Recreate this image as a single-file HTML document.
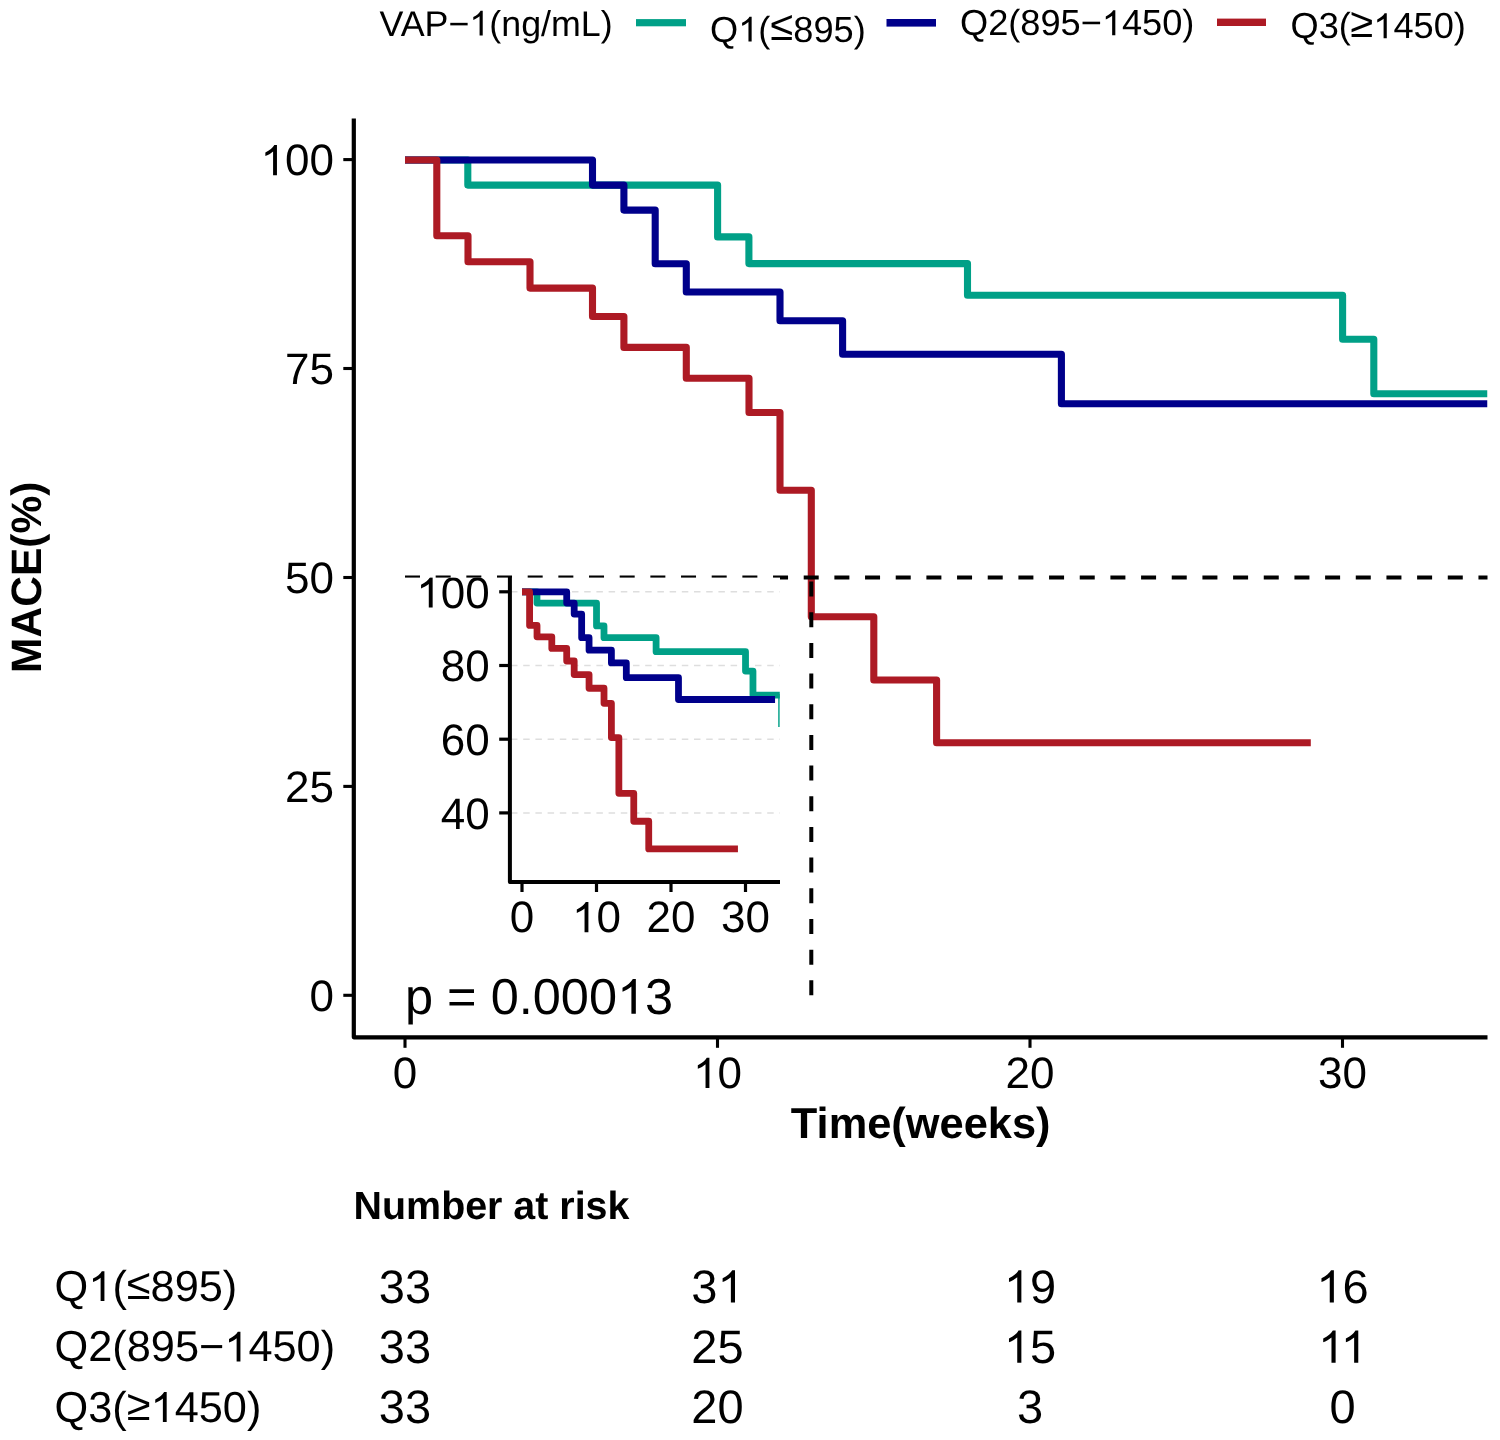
<!DOCTYPE html>
<html><head><meta charset="utf-8"><title>KM plot</title>
<style>html,body{margin:0;padding:0;background:#fff;}body{width:1500px;height:1440px;overflow:hidden;}svg{will-change:transform;}svg{display:block;}text{text-rendering:geometricPrecision;font-family:"Liberation Sans",sans-serif;}.h1{fill-opacity:0;}</style>
</head><body>
<svg width="1500" height="1440" viewBox="0 0 1500 1440">
<defs><clipPath id="pc"><rect x="354" y="100" width="1133.5" height="937"/></clipPath><clipPath id="ic"><rect x="509.8" y="577.6" width="270" height="305"/></clipPath></defs>
<rect width="1500" height="1440" fill="#fff"/>
<g font-family="Liberation Sans, sans-serif" font-size="36.2" fill="#000">
<text x="379.5" y="35.5" font-size="35.8">VAP−<tspan class="h1">1</tspan>(ng/mL)</text><path transform="translate(469.39,35.50) scale(0.01748,-0.01680)" d="M763,0L583,0L583,1147Q518,1085 412.5,1023Q307,961 223,930L223,1104Q374,1175 480.5,1271Q587,1367 641,1466L763,1466Z"/>
<rect x="636" y="19.1" width="50" height="7.2" fill="#00A087"/>
<text x="710" y="41.6">Q<tspan class="h1">1</tspan>(<tspan dx="0" dy="-1.8" font-size="41.8">≤</tspan><tspan dy="1.8">895)</tspan></text><path transform="translate(738.16,41.60) scale(0.01768,-0.01699)" d="M763,0L583,0L583,1147Q518,1085 412.5,1023Q307,961 223,930L223,1104Q374,1175 480.5,1271Q587,1367 641,1466L763,1466Z"/>
<rect x="886.5" y="19" width="49.5" height="7.6" fill="#00008B"/>
<text x="960" y="35.2">Q2(895−<tspan class="h1">1</tspan>450)</text><path transform="translate(1101.84,35.20) scale(0.01768,-0.01699)" d="M763,0L583,0L583,1147Q518,1085 412.5,1023Q307,961 223,930L223,1104Q374,1175 480.5,1271Q587,1367 641,1466L763,1466Z"/>
<rect x="1217" y="18.6" width="49" height="7.4" fill="#AD1A24"/>
<text x="1290.5" y="38.2">Q3(<tspan dx="-0.5" dy="-1.4" font-size="41.8">≥</tspan><tspan dy="1.4"><tspan class="h1">1</tspan>450)</tspan></text><path transform="translate(1373.28,38.20) scale(0.01768,-0.01699)" d="M763,0L583,0L583,1147Q518,1085 412.5,1023Q307,961 223,930L223,1104Q374,1175 480.5,1271Q587,1367 641,1466L763,1466Z"/>
</g>
<g clip-path="url(#pc)" fill="none" stroke-linejoin="round" stroke-linecap="butt">
<polyline points="405.00,160.00 467.80,160.00 467.80,185.10 717.60,185.10 717.60,236.90 748.90,236.90 748.90,263.60 967.50,263.60 967.50,295.30 1342.60,295.30 1342.60,339.30 1373.80,339.30 1373.80,393.80 1487.50,393.80" stroke="#00A087" stroke-width="7.1"/>
<polyline points="405.00,160.00 592.50,160.00 592.50,185.10 623.90,185.10 623.90,210.10 655.20,210.10 655.20,263.70 686.30,263.70 686.30,292.00 780.00,292.00 780.00,320.80 842.60,320.80 842.60,354.30 1061.40,354.30 1061.40,403.80 1487.50,403.80" stroke="#00008B" stroke-width="7.1"/>
<polyline points="405.00,160.00 436.80,160.00 436.80,235.80 468.00,235.80 468.00,261.80 530.00,261.80 530.00,288.10 592.50,288.10 592.50,316.50 623.90,316.50 623.90,347.40 686.30,347.40 686.30,378.30 749.00,378.30 749.00,412.50 780.00,412.50 780.00,490.20 811.30,490.20 811.30,616.70 873.80,616.70 873.80,680.00 936.60,680.00 936.60,742.80 1310.80,742.80" stroke="#AD1A24" stroke-width="7.1"/>
</g>
<g stroke="#000" stroke-width="4" stroke-dasharray="15 15.67">
<line x1="405" y1="577.5" x2="1487.5" y2="577.5"/>
<line x1="811.3" y1="995.3" x2="811.3" y2="577.5"/>
</g>
<g>
<rect x="400" y="577.6" width="380" height="370" fill="#fff"/>
<g clip-path="url(#ic)">
<line x1="511" y1="591.8" x2="780" y2="591.8" stroke="#dedede" stroke-width="1.5" stroke-dasharray="6.5 5.7"/>
<line x1="511" y1="665.5" x2="780" y2="665.5" stroke="#dedede" stroke-width="1.5" stroke-dasharray="6.5 5.7"/>
<line x1="511" y1="739.2" x2="780" y2="739.2" stroke="#dedede" stroke-width="1.5" stroke-dasharray="6.5 5.7"/>
<line x1="511" y1="812.9" x2="780" y2="812.9" stroke="#dedede" stroke-width="1.5" stroke-dasharray="6.5 5.7"/>
<g fill="none" stroke-linejoin="round" stroke-linecap="butt">
<polyline points="522.00,591.97 536.97,591.97 536.97,603.04 596.52,603.04 596.52,625.88 603.99,625.88 603.99,637.65 656.10,637.65 656.10,651.63 745.52,651.63 745.52,671.03 752.96,671.03 752.96,695.07 780.07,695.07" stroke="#00A087" stroke-width="6.8"/>
<polyline points="522.00,591.97 566.70,591.97 566.70,603.04 574.19,603.04 574.19,614.06 581.65,614.06 581.65,637.70 589.06,637.70 589.06,650.18 611.40,650.18 611.40,662.88 626.32,662.88 626.32,677.65 678.49,677.65 678.49,699.48 775.06,699.48" stroke="#00008B" stroke-width="6.8"/>
<polyline points="522.00,591.97 529.58,591.97 529.58,625.40 537.02,625.40 537.02,636.86 551.80,636.86 551.80,648.46 566.70,648.46 566.70,660.98 574.19,660.98 574.19,674.61 589.06,674.61 589.06,688.23 604.01,688.23 604.01,703.31 611.40,703.31 611.40,737.57 618.86,737.57 618.86,793.35 633.76,793.35 633.76,821.27 648.73,821.27 648.73,848.96 737.94,848.96" stroke="#AD1A24" stroke-width="6.8"/>
<line x1="779" y1="694" x2="779" y2="727" stroke="#00A087" stroke-width="1.6"/>
</g>
</g>
<clipPath id="ic2"><rect x="380" y="577.4" width="420" height="400"/></clipPath>
<g clip-path="url(#ic2)" font-family="Liberation Sans, sans-serif" font-size="44" fill="#000">
<text x="489.7" y="607.6" text-anchor="end"><tspan class="h1">1</tspan>00</text><path transform="translate(416.26,607.60) scale(0.02148,-0.02065)" d="M763,0L583,0L583,1147Q518,1085 412.5,1023Q307,961 223,930L223,1104Q374,1175 480.5,1271Q587,1367 641,1466L763,1466Z"/>
<text x="489.7" y="681.3" text-anchor="end">80</text>
<text x="489.7" y="755.0" text-anchor="end">60</text>
<text x="489.7" y="828.7" text-anchor="end">40</text>
<text x="522.0" y="932.2" text-anchor="middle">0</text>
<text x="596.5" y="932.2" text-anchor="middle"><tspan class="h1">1</tspan>0</text><path transform="translate(572.02,932.20) scale(0.02148,-0.02065)" d="M763,0L583,0L583,1147Q518,1085 412.5,1023Q307,961 223,930L223,1104Q374,1175 480.5,1271Q587,1367 641,1466L763,1466Z"/>
<text x="671.0" y="932.2" text-anchor="middle">20</text>
<text x="745.5" y="932.2" text-anchor="middle">30</text>
</g>
<g stroke="#000" stroke-width="3.2">
<line x1="499.2" y1="591.8" x2="509.8" y2="591.8"/>
<line x1="499.2" y1="665.5" x2="509.8" y2="665.5"/>
<line x1="499.2" y1="739.2" x2="509.8" y2="739.2"/>
<line x1="499.2" y1="812.9" x2="509.8" y2="812.9"/>
<line x1="522.0" y1="882" x2="522.0" y2="892"/>
<line x1="596.5" y1="882" x2="596.5" y2="892"/>
<line x1="671.0" y1="882" x2="671.0" y2="892"/>
<line x1="745.5" y1="882" x2="745.5" y2="892"/>
</g>
<polyline points="509.9,576.6 509.9,882 780,882" fill="none" stroke="#000" stroke-width="4" stroke-linejoin="round"/>
</g>
<polyline points="353.8,118.4 353.8,1037.3 1487.5,1037.3" fill="none" stroke="#000" stroke-width="4.2" stroke-linejoin="round"/>
<g stroke="#000" stroke-width="3.1">
<line x1="343.3" y1="159.6" x2="353.8" y2="159.6"/>
<line x1="343.3" y1="368.5" x2="353.8" y2="368.5"/>
<line x1="343.3" y1="577.5" x2="353.8" y2="577.5"/>
<line x1="343.3" y1="786.4" x2="353.8" y2="786.4"/>
<line x1="343.3" y1="995.3" x2="353.8" y2="995.3"/>
<line x1="405.0" y1="1037.3" x2="405.0" y2="1047.8"/>
<line x1="717.5" y1="1037.3" x2="717.5" y2="1047.8"/>
<line x1="1030.0" y1="1037.3" x2="1030.0" y2="1047.8"/>
<line x1="1342.5" y1="1037.3" x2="1342.5" y2="1047.8"/>
</g>
<g font-family="Liberation Sans, sans-serif" font-size="44" fill="#000">
<text x="334" y="175.3" text-anchor="end"><tspan class="h1">1</tspan>00</text><path transform="translate(260.56,175.30) scale(0.02148,-0.02065)" d="M763,0L583,0L583,1147Q518,1085 412.5,1023Q307,961 223,930L223,1104Q374,1175 480.5,1271Q587,1367 641,1466L763,1466Z"/>
<text x="334" y="384.2" text-anchor="end">75</text>
<text x="334" y="593.2" text-anchor="end">50</text>
<text x="334" y="802.1" text-anchor="end">25</text>
<text x="334" y="1011.0" text-anchor="end">0</text>
<text x="405.0" y="1088" text-anchor="middle">0</text>
<text x="717.5" y="1088" text-anchor="middle"><tspan class="h1">1</tspan>0</text><path transform="translate(693.02,1088.00) scale(0.02148,-0.02065)" d="M763,0L583,0L583,1147Q518,1085 412.5,1023Q307,961 223,930L223,1104Q374,1175 480.5,1271Q587,1367 641,1466L763,1466Z"/>
<text x="1030.0" y="1088" text-anchor="middle">20</text>
<text x="1342.5" y="1088" text-anchor="middle">30</text>
<text x="405" y="1013.8" font-size="50.5">p = 0.000<tspan class="h1">1</tspan>3</text><path transform="translate(617.02,1013.80) scale(0.02466,-0.02370)" d="M763,0L583,0L583,1147Q518,1085 412.5,1023Q307,961 223,930L223,1104Q374,1175 480.5,1271Q587,1367 641,1466L763,1466Z"/>
</g>
<g font-family="Liberation Sans, sans-serif" font-weight="bold" fill="#000">
<text x="920.7" y="1138.3" font-size="43.4" text-anchor="middle">Time(weeks)</text>
<text transform="translate(40.5,577.3) rotate(-90)" font-size="42.5" text-anchor="middle">MACE(%)</text>
<text x="353.6" y="1219.4" font-size="39.4">Number at risk</text>
</g>
<g font-family="Liberation Sans, sans-serif" font-size="43.3" fill="#000">
<text x="54.6" y="1301.00">Q<tspan class="h1">1</tspan>(<tspan dy="-2.2">≤</tspan><tspan dy="2.2">895)</tspan></text><path transform="translate(88.29,1301.00) scale(0.02114,-0.02032)" d="M763,0L583,0L583,1147Q518,1085 412.5,1023Q307,961 223,930L223,1104Q374,1175 480.5,1271Q587,1367 641,1466L763,1466Z"/>
<text x="405.0" y="1302.60" font-size="47" text-anchor="middle">33</text>
<text x="717.5" y="1302.60" font-size="47" text-anchor="middle">3<tspan class="h1">1</tspan></text><path transform="translate(717.50,1302.60) scale(0.02295,-0.02205)" d="M763,0L583,0L583,1147Q518,1085 412.5,1023Q307,961 223,930L223,1104Q374,1175 480.5,1271Q587,1367 641,1466L763,1466Z"/>
<text x="1030.0" y="1302.60" font-size="47" text-anchor="middle"><tspan class="h1">1</tspan>9</text><path transform="translate(1003.86,1302.60) scale(0.02295,-0.02205)" d="M763,0L583,0L583,1147Q518,1085 412.5,1023Q307,961 223,930L223,1104Q374,1175 480.5,1271Q587,1367 641,1466L763,1466Z"/>
<text x="1342.5" y="1302.60" font-size="47" text-anchor="middle"><tspan class="h1">1</tspan>6</text><path transform="translate(1316.36,1302.60) scale(0.02295,-0.02205)" d="M763,0L583,0L583,1147Q518,1085 412.5,1023Q307,961 223,930L223,1104Q374,1175 480.5,1271Q587,1367 641,1466L763,1466Z"/>
<text x="54.6" y="1361.45">Q2(895−<tspan class="h1">1</tspan>450)</text><path transform="translate(224.30,1361.45) scale(0.02114,-0.02032)" d="M763,0L583,0L583,1147Q518,1085 412.5,1023Q307,961 223,930L223,1104Q374,1175 480.5,1271Q587,1367 641,1466L763,1466Z"/>
<text x="405.0" y="1362.87" font-size="47" text-anchor="middle">33</text>
<text x="717.5" y="1362.87" font-size="47" text-anchor="middle">25</text>
<text x="1030.0" y="1362.87" font-size="47" text-anchor="middle"><tspan class="h1">1</tspan>5</text><path transform="translate(1003.86,1362.87) scale(0.02295,-0.02205)" d="M763,0L583,0L583,1147Q518,1085 412.5,1023Q307,961 223,930L223,1104Q374,1175 480.5,1271Q587,1367 641,1466L763,1466Z"/>
<text x="1342.5" y="1362.87" font-size="47" text-anchor="middle"><tspan class="h1">1</tspan><tspan class="h1">1</tspan></text><path transform="translate(1318.10,1362.87) scale(0.02295,-0.02205)" d="M763,0L583,0L583,1147Q518,1085 412.5,1023Q307,961 223,930L223,1104Q374,1175 480.5,1271Q587,1367 641,1466L763,1466Z"/><path transform="translate(1340.76,1362.87) scale(0.02295,-0.02205)" d="M763,0L583,0L583,1147Q518,1085 412.5,1023Q307,961 223,930L223,1104Q374,1175 480.5,1271Q587,1367 641,1466L763,1466Z"/>
<text x="54.6" y="1421.90">Q3(<tspan dy="-2.2">≥</tspan><tspan dy="2.2"><tspan class="h1">1</tspan>450)</tspan></text><path transform="translate(150.55,1421.90) scale(0.02114,-0.02032)" d="M763,0L583,0L583,1147Q518,1085 412.5,1023Q307,961 223,930L223,1104Q374,1175 480.5,1271Q587,1367 641,1466L763,1466Z"/>
<text x="405.0" y="1423.14" font-size="47" text-anchor="middle">33</text>
<text x="717.5" y="1423.14" font-size="47" text-anchor="middle">20</text>
<text x="1030.0" y="1423.14" font-size="47" text-anchor="middle">3</text>
<text x="1342.5" y="1423.14" font-size="47" text-anchor="middle">0</text>
</g>
</svg>
</body></html>
